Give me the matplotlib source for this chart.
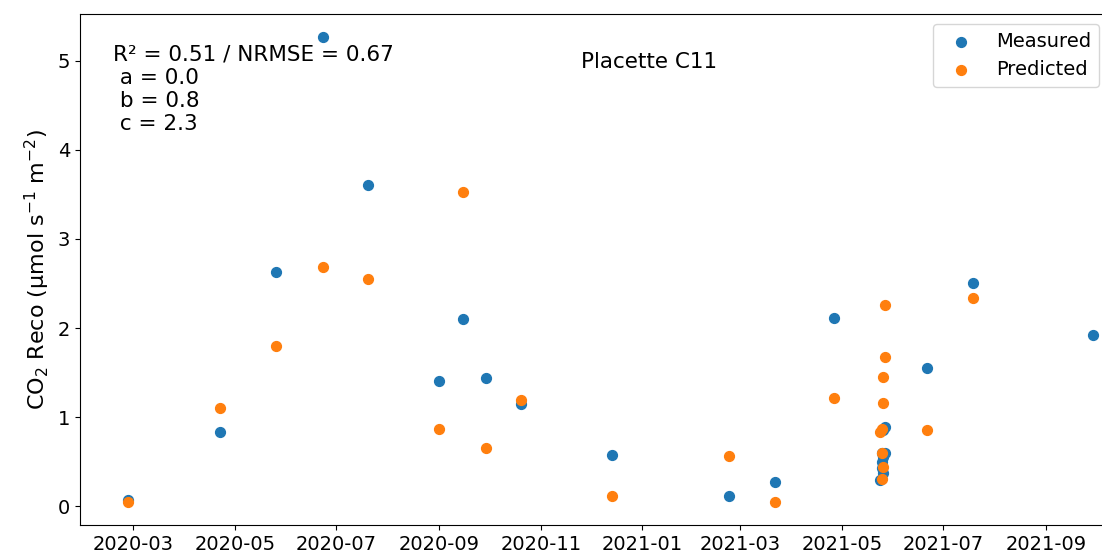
import pandas as pd
import matplotlib
matplotlib.use("Agg")
import matplotlib.pyplot as plt
import matplotlib.dates as mdates

dates = pd.to_datetime([
    "2020-02-27", "2020-04-22", "2020-05-26", "2020-06-23", "2020-07-20",
    "2020-09-01", "2020-09-15", "2020-09-29", "2020-10-20", "2020-12-14",
    "2021-02-22", "2021-03-22", "2021-04-26",
    "2021-05-24", "2021-05-25", "2021-05-25", "2021-05-26", "2021-05-26",
    "2021-05-26", "2021-05-27", "2021-05-27", "2021-05-25",
    "2021-06-21", "2021-07-19", "2021-09-29",
])
measured = [0.07, 0.83, 2.63, 5.26, 3.60,
            1.40, 2.10, 1.44, 1.15, 0.57,
            0.12, 0.27, 2.11,
            0.29, 0.43, 0.50, 0.55, 0.37,
            0.86, 0.60, 0.89, 0.60,
            1.55, 2.51, 1.92]
predicted = [0.05, 1.10, 1.80, 2.68, 2.55,
             0.87, 3.53, 0.65, 1.19, 0.11,
             0.56, 0.05, 1.22,
             0.83, 0.31, 0.60, 1.45, 0.44,
             1.16, 1.67, 2.26, 0.87,
             0.86, 2.34, None]

pred = pd.Series(predicted, index=dates, dtype=float).dropna()

fig = plt.figure(figsize=(11.02, 5.54), dpi=100)
ax = fig.add_axes([0.0726, 0.0523, 0.963, 0.922])

ax.scatter(dates, measured, s=50, color="#1f77b4", label="Measured")
ax.scatter(pred.index, pred.values, s=50, color="#ff7f0e", label="Predicted")

ax.xaxis.set_major_locator(mdates.MonthLocator(bymonth=[1, 3, 5, 7, 9, 11]))
ax.xaxis.set_major_formatter(mdates.DateFormatter("%Y-%m"))
ax.tick_params(labelsize=14)
ax.set_ylabel("CO$_2$ Reco (µmol s$^{-1}$ m$^{-2}$)", fontsize=16)

ax.text(0.031, 0.94, "R² = 0.51 / NRMSE = 0.67\n a = 0.0\n b = 0.8\n c = 2.3",
        transform=ax.transAxes, fontsize=15.5, va="top", ha="left")
ax.text(0.536, 0.926, "Placette C11", transform=ax.transAxes,
        fontsize=15.5, va="top", ha="center")

ax.legend(loc="upper right", bbox_to_anchor=(0.969, 1.0), fontsize=14)

fig.savefig("out.png", dpi=100)
